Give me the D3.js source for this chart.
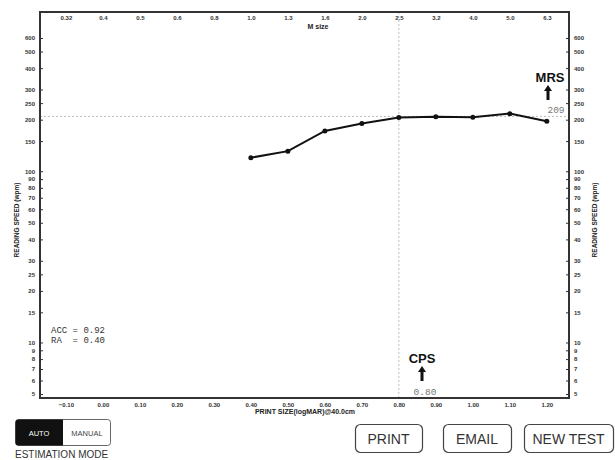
<!DOCTYPE html>
<html><head><meta charset="utf-8">
<script src="https://cdn.jsdelivr.net/npm/d3@7"></script>
<style>
body{margin:0;background:#fff;}
svg{display:block;font-family:"Liberation Sans",Arial,sans-serif;}
</style></head>
<body><svg id="c" width="615" height="460"></svg>
<script>
// ---- data ----
const printSizes = [0.40, 0.50, 0.60, 0.70, 0.80, 0.90, 1.00, 1.10, 1.20];
const readingSpeeds = [120, 131, 172, 190, 206, 208, 207, 217, 196];
const logmarTicks = [-0.10, 0.00, 0.10, 0.20, 0.30, 0.40, 0.50, 0.60, 0.70, 0.80, 0.90, 1.00, 1.10, 1.20];
const mSizeLabels = ["0.32","0.4","0.5","0.6","0.8","1.0","1.3","1.6","2.0","2.5","3.2","4.0","5.0","6.3"];
const speedTicks = [5,6,7,8,9,10,15,20,25,30,40,50,60,70,80,90,100,150,200,250,300,400,500,600];
const MRS = 209, CPS = 0.80, ACC = 0.92, RA = 0.40;
const buttons = ["PRINT","EMAIL","NEW TEST"];

const svg = d3.select("#c");
const L = 40, R = 569, T = 12, B = 398;
const x = d3.scaleLinear().domain([-0.17, 1.26]).range([L, R]);
const y = d3.scaleLog().domain([4.74, 851]).range([B, T]);

// reference lines
svg.append("line").attr("x1", x(CPS)).attr("x2", x(CPS)).attr("y1", T).attr("y2", B)
  .attr("stroke", "#bbb").attr("stroke-width", 1).attr("stroke-dasharray", "2,2");
svg.append("line").attr("x1", L).attr("x2", R).attr("y1", y(MRS)).attr("y2", y(MRS))
  .attr("stroke", "#bbb").attr("stroke-width", 1).attr("stroke-dasharray", "2,2");

// axes
const tickFont = g => g.selectAll("text").attr("font-size", "6px").attr("font-weight", "bold").attr("fill", "#333");
const leftAx = svg.append("g").attr("transform", `translate(${L},0)`)
  .call(d3.axisLeft(y).tickValues(speedTicks).tickFormat(d3.format("d")).tickSizeInner(-3).tickSizeOuter(0).tickPadding(5));
leftAx.call(tickFont); leftAx.select(".domain").remove();
leftAx.selectAll("line").attr("stroke", "#333");
const rightAx = svg.append("g").attr("transform", `translate(${R},0)`)
  .call(d3.axisRight(y).tickValues(speedTicks).tickFormat(d3.format("d")).tickSizeInner(-3).tickSizeOuter(0).tickPadding(5));
rightAx.call(tickFont); rightAx.select(".domain").remove();
rightAx.selectAll("line").attr("stroke", "#333");
const botAx = svg.append("g").attr("transform", `translate(0,${B})`)
  .call(d3.axisBottom(x).tickValues(logmarTicks).tickFormat(d3.format(".2f")).tickSize(0).tickPadding(5));
botAx.call(tickFont); botAx.select(".domain").remove();
const topAx = svg.append("g").attr("transform", `translate(0,${T})`)
  .call(d3.axisBottom(x).tickValues(logmarTicks).tickFormat((d, i) => mSizeLabels[i]).tickSize(0).tickPadding(4));
topAx.call(tickFont); topAx.select(".domain").remove();

// frame
svg.append("rect").attr("x", L).attr("y", T).attr("width", R - L).attr("height", B - T)
  .attr("fill", "none").attr("stroke", "#333").attr("stroke-width", 2);

// axis titles
svg.append("text").attr("x", 305).attr("y", 414).attr("text-anchor", "middle")
  .attr("font-size", "7px").attr("font-weight", "bold").attr("fill", "#222").text("PRINT SIZE(logMAR)@40.0cm");
svg.append("text").attr("x", 318).attr("y", 29).attr("text-anchor", "middle")
  .attr("font-size", "7px").attr("font-weight", "bold").attr("fill", "#222").text("M size");
[[19], [597]].forEach(([xx]) => {
  svg.append("text").attr("transform", `translate(${xx},${220}) rotate(-90)`).attr("text-anchor", "middle")
    .attr("font-size", "6.5px").attr("font-weight", "bold").attr("fill", "#222").text("READING SPEED (wpm)");
});

// data line
const line = d3.line().x((d, i) => x(printSizes[i])).y(d => y(d));
svg.append("path").datum(readingSpeeds).attr("d", line).attr("fill", "none")
  .attr("stroke", "#111").attr("stroke-width", 2);
svg.selectAll("circle.pt").data(readingSpeeds).join("circle").attr("class", "pt")
  .attr("cx", (d, i) => x(printSizes[i])).attr("cy", d => y(d)).attr("r", 2.5).attr("fill", "#111");

// ACC / RA
svg.append("text").attr("x", 51).attr("y", 333).attr("font-family", "Liberation Mono, monospace")
  .attr("font-size", "9px").attr("fill", "#333").attr("xml:space", "preserve").text("ACC = " + ACC.toFixed(2));
svg.append("text").attr("x", 51).attr("y", 343).attr("font-family", "Liberation Mono, monospace")
  .attr("font-size", "9px").attr("fill", "#333").attr("xml:space", "preserve").text("RA  = " + RA.toFixed(2));

// arrow helper
function arrow(cx, top, bottom) {
  svg.append("path").attr("d", `M${cx},${top} L${cx - 4},${top + 6} L${cx - 1.5},${top + 6} L${cx - 1.5},${bottom} L${cx + 1.5},${bottom} L${cx + 1.5},${top + 6} L${cx + 4},${top + 6} Z`)
    .attr("fill", "#111");
}
// CPS
svg.append("text").attr("x", 422).attr("y", 363).attr("text-anchor", "middle")
  .attr("font-size", "13px").attr("font-weight", "bold").attr("fill", "#111").text("CPS");
arrow(422, 366, 381);
svg.append("text").attr("x", 425).attr("y", 395).attr("text-anchor", "middle").attr("font-family", "Liberation Mono, monospace")
  .attr("font-size", "9.5px").attr("fill", "#777").text(CPS.toFixed(2));
// MRS
svg.append("text").attr("x", 550).attr("y", 82).attr("text-anchor", "middle")
  .attr("font-size", "13px").attr("font-weight", "bold").attr("fill", "#111").text("MRS");
arrow(548, 85, 100);
svg.append("text").attr("x", 556).attr("y", 113).attr("text-anchor", "middle").attr("font-family", "Liberation Mono, monospace")
  .attr("font-size", "9.5px").attr("fill", "#777").text(MRS);

// estimation mode toggle
svg.append("rect").attr("x", 15.5).attr("y", 419.5).attr("width", 95).attr("height", 26).attr("rx", 3)
  .attr("fill", "#fff").attr("stroke", "#666").attr("stroke-width", 1);
svg.append("path").attr("d", "M18.5,419.5 H63 V445.5 H18.5 Q15.5,445.5 15.5,442.5 V422.5 Q15.5,419.5 18.5,419.5 Z").attr("fill", "#111");
svg.append("text").attr("x", 39).attr("y", 436).attr("text-anchor", "middle").attr("font-size", "7.5px").attr("fill", "#fff").text("AUTO");
svg.append("text").attr("x", 87).attr("y", 436).attr("text-anchor", "middle").attr("font-size", "7.5px").attr("fill", "#444").text("MANUAL");
svg.append("text").attr("x", 15).attr("y", 458).attr("font-size", "10px").attr("fill", "#333").text("ESTIMATION MODE");

// buttons
const btnX = [355, 443, 524], btnW = [67, 68, 89];
buttons.forEach((b, i) => {
  svg.append("rect").attr("x", btnX[i] + 0.5).attr("y", 424.5).attr("width", btnW[i]).attr("height", 28).attr("rx", 5)
    .attr("fill", "#fff").attr("stroke", "#444").attr("stroke-width", 1.2);
  svg.append("text").attr("x", btnX[i] + btnW[i] / 2).attr("y", 444).attr("text-anchor", "middle")
    .attr("font-size", "14px").attr("fill", "#333").text(b);
});
</script></body></html>
